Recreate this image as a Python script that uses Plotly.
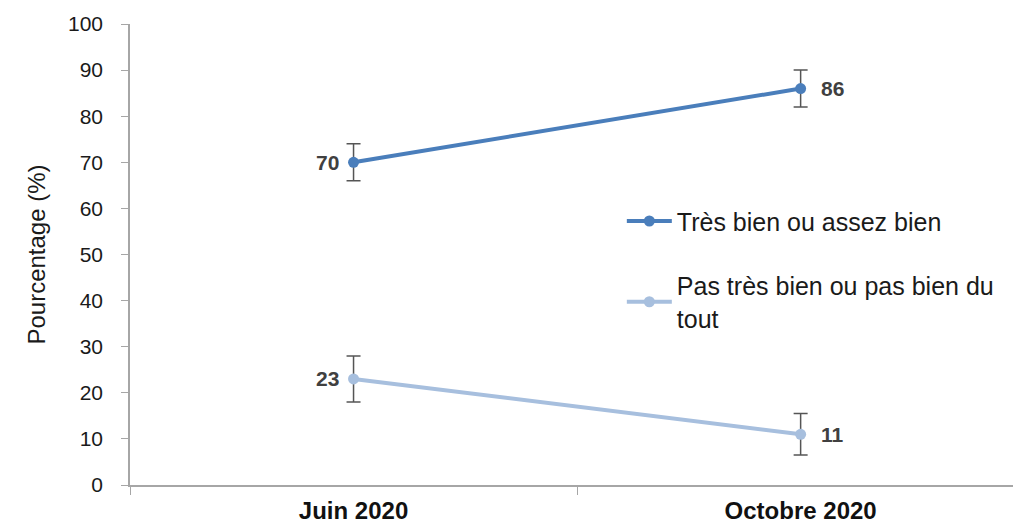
import plotly.graph_objects as go

# Survey waves and results
periodes = ["Juin 2020", "Octobre 2020"]
tres_bien = [70, 86]
tres_bien_err = [4, 4]
pas_bien = [23, 11]
pas_bien_err = [5, 4.5]

nom_tres_bien = "Très bien ou assez bien"
nom_pas_bien = "Pas très bien ou pas bien du<br>tout"

# label side per point: -1 left of the marker, +1 right of it
cote_labels = [-1, 1]

police = "Liberation Sans, Arial"

fig = go.Figure()

for nom, valeurs, erreurs, couleur, groupe in [
    (nom_tres_bien, tres_bien, tres_bien_err, "#4A7EBB", "a"),
    (nom_pas_bien, pas_bien, pas_bien_err, "#A7BFDE", "b"),
]:
    fig.add_trace(go.Scatter(
        x=periodes, y=valeurs,
        mode="lines+markers",
        name=nom,
        legendgroup=groupe,
        line=dict(color=couleur, width=4),
        marker=dict(color=couleur, size=11),
        error_y=dict(type="data", array=erreurs, color="#555555", thickness=1.5, width=7),
    ))
    for p, v, c in zip(periodes, valeurs, cote_labels):
        fig.add_annotation(
            x=p, y=v, text=str(v), showarrow=False,
            xanchor="right" if c < 0 else "left",
            xshift=-13 if c < 0 else 18,
            font=dict(family=police, size=21, color="#404040", weight="bold"),
        )

fig.update_layout(
    width=1013, height=527,
    margin=dict(l=130, r=0, t=24, b=42),
    plot_bgcolor="white", paper_bgcolor="white",
    font=dict(family=police, color="#1a1a1a"),
    showlegend=True,
    legend=dict(
        x=0.557, y=0.622, xanchor="left", yanchor="top",
        font=dict(size=25, color="#1a1a1a"),
        tracegroupgap=29,
        itemwidth=45,
        bgcolor="rgba(0,0,0,0)",
    ),
    xaxis=dict(
        type="category",
        range=[-0.5, 1.475],
        automargin=False,
        showline=True, linecolor="#A6A6A6", linewidth=1.5,
        showgrid=False, zeroline=False,
        ticks="outside", tickson="boundaries", ticklen=8, tickcolor="#A6A6A6",
        ticklabelstandoff=3,
        tickfont=dict(size=24, color="#111111", weight="bold"),
    ),
    yaxis=dict(
        range=[0, 100], dtick=10,
        automargin=False,
        showline=True, linecolor="#A6A6A6", linewidth=1.5,
        showgrid=False, zeroline=False,
        ticks="outside", ticklen=7, tickcolor="#A6A6A6",
        ticklabelstandoff=14,
        tickfont=dict(size=21, color="#1a1a1a"),
        title=dict(text="Pourcentage (%)", font=dict(size=24, color="#1a1a1a"), standoff=16),
    ),
)

fig.write_html("out.html")
